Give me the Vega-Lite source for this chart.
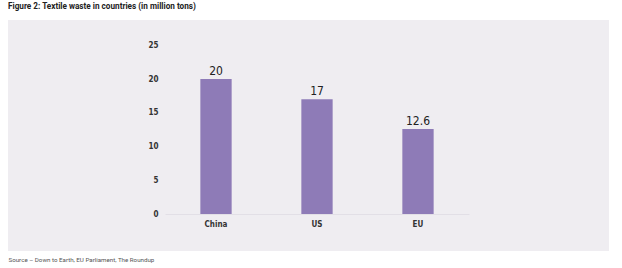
{
  "$schema": "https://vega.github.io/schema/vega-lite/v6.json",
  "autosize": "none",
  "width": 601,
  "height": 231,
  "padding": {"left": 8, "top": 20, "right": 13, "bottom": 17},
  "background": "#ffffff",
  "title": {
    "text": "Figure 2: Textile waste in countries (in million tons)",
    "anchor": "start",
    "frame": "group",
    "font": "Roboto, sans-serif",
    "fontSize": 8.2,
    "fontWeight": "bold",
    "color": "#222222",
    "offset": 9
  },
  "data": {
    "values": [
      {"country": "China", "waste": 20},
      {"country": "US", "waste": 17},
      {"country": "EU", "waste": 12.6}
    ]
  },
  "encoding": {
    "x": {
      "field": "country",
      "type": "nominal",
      "sort": null,
      "scale": {"range": [157, 461], "paddingInner": 0.69, "paddingOuter": 0.35},
      "axis": {
        "orient": "bottom",
        "offset": -37,
        "title": "Source – Down to Earth, EU Parliament, The Roundup",
        "titleFont": "Roboto, sans-serif",
        "titleFontSize": 6.2,
        "titleFontWeight": "normal",
        "titleColor": "#555555",
        "titleX": 0,
        "titleY": 45,
        "titleAlign": "left",
        "titleAnchor": null,
        "titleBaseline": "middle",
        "domainColor": "#e2dfe6",
        "domainWidth": 1,
        "ticks": false,
        "labelAngle": 0,
        "labelPadding": 6,
        "labelFont": "DejaVu Sans Condensed, Roboto, sans-serif",
        "labelFontSize": 8,
        "labelFontWeight": "bold",
        "labelColor": "#333333"
      }
    },
    "y": {
      "field": "waste",
      "type": "quantitative",
      "scale": {"domain": [0, 25], "range": [194, 25.25], "nice": false},
      "axis": {
        "orient": "left",
        "offset": -152,
        "title": null,
        "values": [0, 5, 10, 15, 20, 25],
        "domain": false,
        "ticks": false,
        "grid": false,
        "labelPadding": 2,
        "labelFont": "DejaVu Sans Condensed, Roboto, sans-serif",
        "labelFontSize": 8,
        "labelFontWeight": "bold",
        "labelColor": "#333333"
      }
    }
  },
  "layer": [
    {"mark": {"type": "bar", "color": "#8e7bb7"}},
    {
      "mark": {
        "type": "text",
        "baseline": "alphabetic",
        "dy": -4,
        "font": "DejaVu Sans Condensed, Roboto, sans-serif",
        "fontSize": 12,
        "color": "#222222"
      },
      "encoding": {"text": {"field": "waste", "type": "quantitative"}}
    }
  ],
  "config": {
    "view": {"fill": "#efedf1", "stroke": null}
  }
}
